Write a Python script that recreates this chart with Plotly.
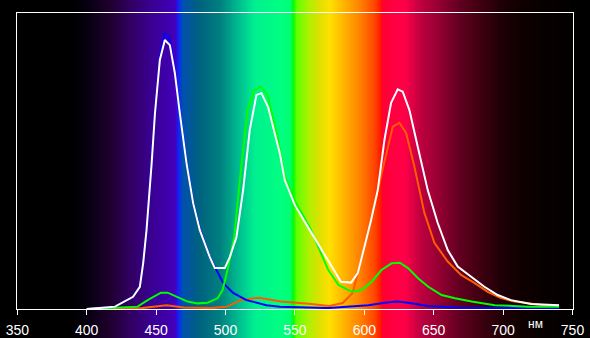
import plotly.graph_objects as go
import numpy as np

# ---- data ----
wl_white = [400, 410, 420.4, 433.4, 438.3, 440.7, 443.1, 446.8, 449.2, 452.7, 456.3, 459.9, 463.5, 467.1,
            471.9, 476.7, 481.5, 488.7, 492.3, 499.5, 503.1, 507.9, 512.7, 517.5, 522.3, 525.9, 530.7,
            536.7, 539.1, 542.7, 549.9, 560.7, 571.5, 578.7, 583.2, 590.5, 595.3, 600.1, 604.9, 609.7,
            614.5, 619.3, 624.1, 627.7, 632.5, 638.5, 645.7, 652.9, 660.1, 667.3, 676.9, 686.5, 696.1,
            705.7, 720.1, 740.3]
white = [0, 0.3, 0.8, 4.1, 7.5, 15.5, 26.6, 49.2, 66.1, 84.0, 90.7, 89.0, 79.6, 66.1,
         49.2, 35.7, 26.6, 17.5, 13.8, 13.8, 17.5, 24.3, 40.1, 60.4, 72.2, 72.8, 68.1,
         57.0, 52.6, 43.5, 35.1, 26.6, 18.2, 12.5, 9.2, 8.9, 12.1, 21.0, 30.0, 40.1,
         57.0, 69.5, 74.1, 73.3, 67.1, 54.7, 40.1, 29.0, 19.9, 14.3, 10.9, 7.5, 4.7,
         3.0, 1.7, 1.3]

wl_blue = [400, 410, 420.4, 433.4, 438.3, 440.7, 443.1, 446.8, 449.2, 452.7, 456.3, 459.9, 463.5, 467.1,
           471.9, 476.7, 481.5, 488.7, 493.5, 498.3, 505.5, 515.1, 529.5, 539.1, 574, 603, 615,
           623.3, 631.7, 646, 670, 700, 740.3]
blue = [0, 0.3, 0.8, 4.1, 7.5, 15.5, 26.6, 49.2, 66.1, 85.0, 93.0, 91.0, 80.5, 66.5,
        49.5, 36.0, 27.0, 17.5, 13.2, 8.8, 5.4, 3.0, 1.3, 0.8, 0.3, 1.3, 2.1,
        2.5, 2.1, 1.0, 0.4, 0.3, 0.3]

wl_green = [400, 425.9, 436.7, 443.9, 453.5, 458.3, 465.5, 472.7, 479.9, 487.1, 494.3, 497.9, 501.5,
            506.3, 511.1, 515.9, 520.7, 525.5, 530.3, 535.1, 537.5, 542.7, 549.9, 560.7, 574.0,
            581.4, 590.9, 598.1, 605.3, 612.5, 619.7, 625.7, 631.7, 638.9, 646.1, 655.7, 665.3,
            677.3, 694.1, 718.3, 740.3]
green = [0, 0.6, 0.8, 3.0, 5.5, 5.5, 4.1, 2.5, 1.9, 2.1, 3.6, 6.4, 13.2,
         24.4, 46.9, 67.1, 73.9, 75.0, 72.2, 62.7, 58.0, 45.0, 36.5, 27.5, 13.2,
         8.1, 5.8, 6.4, 9.2, 13.2, 15.4, 15.6, 13.7, 10.3, 7.5, 4.7, 3.6,
         2.5, 1.3, 0.8, 0.8]

wl_red = [400, 440, 452.7, 457.6, 470, 490, 501.1, 511.0, 523.9, 530.3, 540, 560, 574.8, 584.4,
          591.6, 599.0, 606.2, 614.5, 620.5, 625.3, 630.1, 636.1, 643.3, 650.5, 660.1, 669.7,
          679.3, 688.9, 698.5, 708.1, 729.7, 740.3]
red = [0, 0.3, 1.0, 1.3, 0.5, 0.3, 0.8, 3.0, 3.8, 3.3, 2.5, 1.8, 1.0, 2.0,
       5.4, 18.9, 33.4, 49.2, 61.5, 62.8, 59.4, 48.0, 32.4, 22.3, 16.0, 11.5,
       8.8, 5.8, 3.7, 2.5, 1.3, 1.2]

x_ticks = [350, 400, 450, 500, 550, 600, 650, 700, 750]

# ---- background spectrum gradient stops (wavelength, colour) ----
spec_wl = [337, 390, 400, 417, 431, 446, 460, 464, 465.5, 469, 480, 496, 510, 521, 540, 547, 548.5,
           551, 560, 568, 575, 586, 597, 608, 611.5, 613, 620, 629, 640, 655, 669, 683, 698, 712,
           727, 749.5, 750.5, 763]
spec_col = ["#000000", "#000000", "#06000f", "#200030", "#300060", "#3a0090", "#4000b0", "#4400c0",
            "#1020ff", "#0050b0", "#006080", "#008080", "#00c090", "#00f090", "#00ff80", "#00ff70",
            "#00ff00", "#60ff00", "#b0f000", "#e0e000", "#ffe000", "#ffb000", "#ff8000", "#ff4000",
            "#ff1800", "#ff0030", "#ff0040", "#ff0048", "#c00040", "#900030", "#600020", "#400010",
            "#200008", "#100000", "#080000", "#030000", "#000000", "#000000"]

lo, hi = spec_wl[0], spec_wl[-1]
colorscale = [[(w - lo) / (hi - lo), c] for w, c in zip(spec_wl, spec_col)]
grid = np.arange(lo, hi + 0.5, 0.5)

fig = go.Figure()
fig.add_trace(go.Heatmap(x=grid, y=[0, 1], z=[grid, grid], colorscale=colorscale,
                         zmin=lo, zmax=hi, showscale=False, zsmooth="best",
                         hoverinfo="skip", xaxis="x", yaxis="y"))

for wl, vals, col in [(wl_red, red, "#ff5a00"), (wl_blue, blue, "#0000ff"),
                      (wl_green, green, "#00ff00"), (wl_white, white, "#ffffff")]:
    fig.add_trace(go.Scatter(x=wl, y=vals, mode="lines", line=dict(color=col, width=2),
                             xaxis="x2", yaxis="y2", showlegend=False))

W, H = 590, 338
left_px, right_px, top_px, bot_px = 17.3, 572.5, 12.5, 309
nm_per_px = 400 / (right_px - left_px)

fig.update_layout(
    width=W, height=H, margin=dict(l=0, r=0, t=0, b=0, autoexpand=False),
    paper_bgcolor="#000000", plot_bgcolor="rgba(0,0,0,0)",
    showlegend=False,
    xaxis=dict(domain=[0, 1], range=[350 - left_px * nm_per_px, 350 + (W - left_px) * nm_per_px],
               visible=False, fixedrange=True, automargin=False),
    yaxis=dict(domain=[0, 1], range=[0, 1], visible=False, fixedrange=True, automargin=False),
    xaxis2=dict(domain=[left_px / W, right_px / W], range=[350, 750], anchor="y2",
                automargin=False,
                showgrid=False, zeroline=False, showline=True, mirror=True,
                linecolor="#ffffff", linewidth=1,
                tickmode="array", tickvals=x_ticks, ticks="outside", ticklen=5,
                tickcolor="#ffffff", tickwidth=1, ticklabelstandoff=3,
                tickfont=dict(color="#ffffff", size=14, family="Liberation Sans")),
    yaxis2=dict(domain=[(H - bot_px) / H, (H - top_px) / H], range=[0, 100], anchor="x2",
                automargin=False,
                showgrid=False, zeroline=False, showline=True, mirror=True,
                linecolor="#ffffff", linewidth=1, showticklabels=False, ticks=""),
    annotations=[dict(text="нм", xref="x2", yref="paper", x=723.5, y=(H - 324) / H,
                      xanchor="center", yanchor="middle",
                      showarrow=False, font=dict(color="#ffffff", size=12, family="Liberation Sans"))],
)

fig.write_html("out.html")
